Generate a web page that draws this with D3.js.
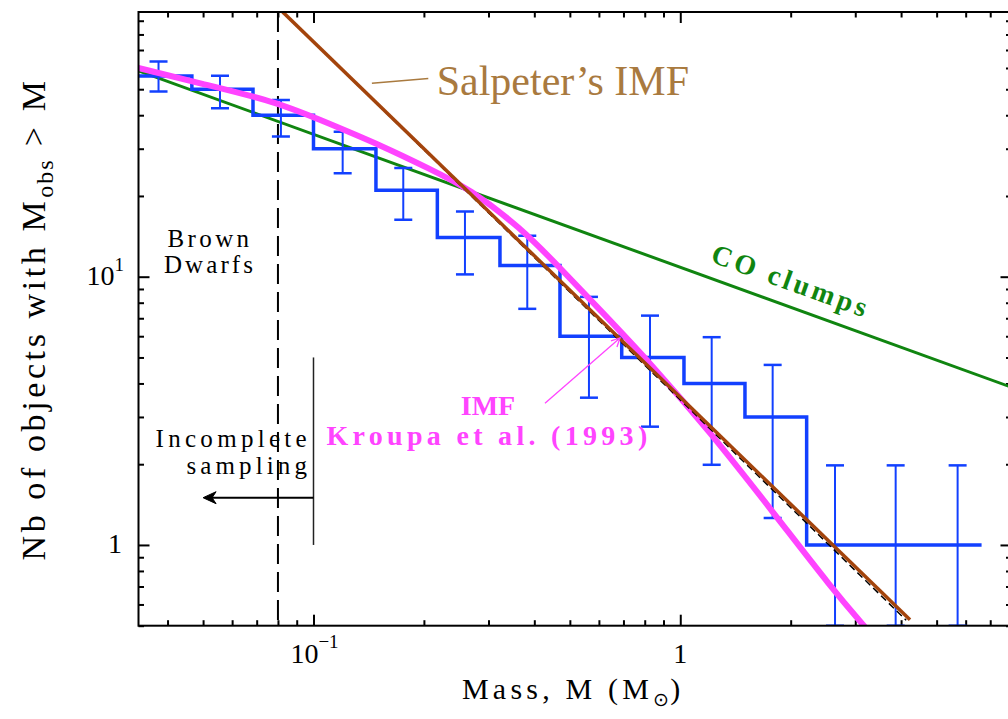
<!DOCTYPE html>
<html>
<head>
<meta charset="utf-8">
<script src="https://cdn.jsdelivr.net/npm/d3@7"></script>
<style>
  body { margin: 0; background: #fff; }
</style>
</head>
<body>
<div class="chart"></div>
<script>
const WIDTH = 1008;
const HEIGHT = 719;
const FONT = "'Liberation Serif', 'Times New Roman', serif";

// axes
const X_DOMAIN = [1 / 30, 8];
const Y_DOMAIN = [0.5, 97];
const X_MAJOR = [0.1, 1];
const Y_MAJOR = [1, 10];

// observed cumulative histogram (step edges in M, counts N(>M))
const STEP_EDGES = [0.0333, 0.0466, 0.0684, 0.1, 0.148, 0.2176, 0.3224, 0.4699, 0.6924, 1.0235, 1.501, 2.211, 6.63];
const STEP_COUNTS = [56, 50, 40, 30, 21, 14, 11, 6, 5, 4, 3, 1];

// error bars
const ERR_MASS = [0.0378, 0.0556, 0.0815, 0.1201, 0.1757, 0.2588, 0.3827, 0.5637, 0.8269, 1.218, 1.786, 2.642, 3.866, 5.704];
const ERR_HIGH = [63.4, 56.1, 45.6, 34.7, 25.4, 17.5, 14.2, 8.41, 7.16, 5.95, 4.69, 1.98, 1.98, 1.98];
const ERR_LOW  = [49.0, 42.5, 33.3, 24.3, 16.3, 10.2, 7.59, 3.54, 2.76, 1.99, 1.26, 0.5, 0.5, 0.5];

// Kroupa et al. (1993) IMF
const KROUPA_MASS = [0.0333, 0.049, 0.0794, 0.1109, 0.1518, 0.208, 0.2671, 0.3656, 0.4699, 0.604, 0.8269, 1.205, 1.789, 2.608, 3.188];
const KROUPA_N    = [60.0, 52.6, 44.9, 37.1, 31.0, 25.2, 21.2, 15.3, 10.8, 7.52, 4.78, 2.64, 1.328, 0.68, 0.495];

// Salpeter's IMF
const SALPETER_MASS = [0.0824, 4.23];
const SALPETER_N    = [97.1, 0.526];
const SALPETER_DASH_MASS = [0.0824, 4.13];
const SALPETER_DASH_N    = [97.1, 0.524];

// CO clumps
const CO_MASS = [1 / 30, 8];
const CO_N    = [58.5, 3.87];

// limits
const BROWN_DWARF_LIMIT = 0.08;
const SAMPLING_LIMIT = 0.1;

const LEFT = 138.5, RIGHT = 1011.5, TOP = 12, BOTTOM = 625.7;

const BLUE = "#1240ff";
const MAGENTA = "#ff44ff";
const BROWN = "#a3440c";
const GREEN = "#108510";
const TAN = "#a97a3f";

const svg = d3.select(".chart").append("svg")
  .attr("width", WIDTH).attr("height", HEIGHT)
  .attr("font-family", FONT);

const x = d3.scaleLog().domain(X_DOMAIN).range([LEFT, RIGHT]);
const y = d3.scaleLog().domain(Y_DOMAIN).range([BOTTOM, TOP]);

svg.append("clipPath").attr("id", "plot")
  .append("rect").attr("x", LEFT).attr("y", TOP)
  .attr("width", RIGHT - LEFT).attr("height", BOTTOM - TOP);

// ticks (inward, all four sides)
const xMinor = x.ticks().filter(d => !X_MAJOR.includes(d));
const yMinor = y.ticks().filter(d => !Y_MAJOR.includes(d));
const tickAxes = [
  [d3.axisBottom(x), `translate(0,${BOTTOM})`, X_MAJOR, xMinor],
  [d3.axisTop(x), `translate(0,${TOP})`, X_MAJOR, xMinor],
  [d3.axisLeft(y), `translate(${LEFT},0)`, Y_MAJOR, yMinor],
  [d3.axisRight(y), `translate(${RIGHT},0)`, Y_MAJOR, yMinor]
];
for (const [axis, tr, major, minor] of tickAxes) {
  for (const [vals, len] of [[major, 11], [minor, 5.5]]) {
    const g = svg.append("g").attr("transform", tr)
      .call(axis.tickValues(vals).tickSize(-len).tickFormat(""));
    g.select(".domain").remove();
    g.selectAll(".tick line").attr("stroke", "#000").attr("stroke-width", 2);
  }
}

const plot = svg.append("g").attr("clip-path", "url(#plot)");

// brown dwarf limit
plot.append("line")
  .attr("x1", x(BROWN_DWARF_LIMIT)).attr("x2", x(BROWN_DWARF_LIMIT))
  .attr("y1", TOP).attr("y2", BOTTOM)
  .attr("stroke", "#000").attr("stroke-width", 2).attr("stroke-dasharray", "20,8");

// CO clumps
const line = d3.line().x(d => x(d[0])).y(d => y(d[1]));
plot.append("path")
  .attr("d", line(CO_MASS.map((m, i) => [m, CO_N[i]])))
  .attr("fill", "none").attr("stroke", GREEN).attr("stroke-width", 3);

// histogram
const stepPts = STEP_COUNTS.map((n, i) => [STEP_EDGES[i], n]);
stepPts.push([STEP_EDGES[STEP_EDGES.length - 1], STEP_COUNTS[STEP_COUNTS.length - 1]]);
plot.append("path")
  .attr("d", d3.line().x(d => x(d[0])).y(d => y(d[1])).curve(d3.curveStepAfter)(stepPts))
  .attr("fill", "none").attr("stroke", BLUE).attr("stroke-width", 3.5);

const errs = plot.append("g").attr("stroke", BLUE).attr("stroke-width", 2);
ERR_MASS.forEach((m, i) => {
  const cx = x(m);
  errs.append("line").attr("x1", cx).attr("x2", cx).attr("y1", y(ERR_HIGH[i])).attr("y2", y(ERR_LOW[i]));
  for (const v of [ERR_HIGH[i], ERR_LOW[i]]) {
    errs.append("line").attr("x1", cx - 9).attr("x2", cx + 9).attr("y1", y(v)).attr("y2", y(v)).attr("stroke-width", 2.5);
  }
});

// Kroupa IMF
plot.append("path")
  .attr("d", d3.line().x(d => x(d[0])).y(d => y(d[1])).curve(d3.curveBasis)(KROUPA_MASS.map((m, i) => [m, KROUPA_N[i]])))
  .attr("fill", "none").attr("stroke", MAGENTA).attr("stroke-width", 6);

// Salpeter
plot.append("path")
  .attr("d", line(SALPETER_DASH_MASS.map((m, i) => [m, SALPETER_DASH_N[i]])))
  .attr("fill", "none").attr("stroke", "#000").attr("stroke-width", 1.5).attr("stroke-dasharray", "7,4");
plot.append("path")
  .attr("d", line(SALPETER_MASS.map((m, i) => [m, SALPETER_N[i]])))
  .attr("fill", "none").attr("stroke", BROWN).attr("stroke-width", 3.5);

// frame
svg.append("rect").attr("x", LEFT).attr("y", TOP)
  .attr("width", RIGHT - LEFT).attr("height", BOTTOM - TOP)
  .attr("fill", "none").attr("stroke", "#000").attr("stroke-width", 2);

// incomplete sampling marker
const sx = x(SAMPLING_LIMIT);
svg.append("line").attr("x1", sx).attr("x2", sx).attr("y1", y(5)).attr("y2", y(1))
  .attr("stroke", "#222").attr("stroke-width", 1.5);
const ay = y(1.5), ax = x(0.05);
svg.append("line").attr("x1", sx).attr("x2", ax + 2).attr("y1", ay).attr("y2", ay)
  .attr("stroke", "#000").attr("stroke-width", 2);
svg.append("path")
  .attr("d", `M${ax},${ay} L${ax + 13},${ay - 6} L${ax + 9},${ay} L${ax + 13},${ay + 6} Z`)
  .attr("fill", "#000").attr("stroke", "#000").attr("stroke-width", 1);

// tick labels
const tickLab = svg.append("g").attr("font-size", 28).attr("fill", "#000");
const t1 = tickLab.append("text").attr("x", x(0.1) + 1).attr("y", 663).attr("text-anchor", "middle");
t1.append("tspan").text("10");
t1.append("tspan").attr("dy", -15).attr("font-size", 19).text("\u22121");
tickLab.append("text").attr("x", x(1)).attr("y", 663).attr("text-anchor", "middle").text("1");
const t3 = tickLab.append("text").attr("x", 124).attr("y", y(10) + 8).attr("text-anchor", "end");
t3.append("tspan").text("10");
t3.append("tspan").attr("dy", -14).attr("font-size", 19).text("1");
tickLab.append("text").attr("x", 122).attr("y", y(1) + 8).attr("text-anchor", "end").text("1");

// axis titles
const xt = svg.append("text").attr("x", 462).attr("y", 699)
  .attr("font-size", 30).attr("letter-spacing", 4.2);
xt.append("tspan").text("Mass, M (M");
xt.append("tspan").attr("dy", 7).attr("font-size", 19).attr("letter-spacing", 1).text("\u2299");
xt.append("tspan").attr("dy", -7).text(")");

const yt = svg.append("text").attr("transform", "translate(45,319) rotate(-90)")
  .attr("text-anchor", "middle").attr("font-size", 34).attr("letter-spacing", 3.6);
yt.append("tspan").text("Nb of objects with M");
yt.append("tspan").attr("dy", 8).attr("font-size", 24).attr("letter-spacing", 2).text("obs");
yt.append("tspan").attr("dy", -8).text(" > M");

// annotations
const note = svg.append("g").attr("font-size", 25).attr("fill", "#000");
note.append("text").attr("x", 210).attr("y", 246.7).attr("text-anchor", "middle").attr("letter-spacing", 3.4).text("Brown");
note.append("text").attr("x", 210).attr("y", 272.7).attr("text-anchor", "middle").attr("letter-spacing", 3.1).text("Dwarfs");
note.append("text").attr("x", 311).attr("y", 446.7).attr("text-anchor", "end").attr("letter-spacing", 4.3).text("Incomplete");
note.append("text").attr("x", 311).attr("y", 474).attr("text-anchor", "end").attr("letter-spacing", 4.1).text("sampling");

svg.append("text").attr("x", 788).attr("y", 290)
  .attr("transform", `rotate(${Math.atan(0.3623) * 180 / Math.PI},788,290)`)
  .attr("text-anchor", "middle").attr("font-size", 28).attr("font-weight", "bold")
  .attr("letter-spacing", 3.6).attr("fill", GREEN).text("CO clumps");

const imf = svg.append("g").attr("fill", MAGENTA).attr("font-weight", "bold");
imf.append("text").attr("x", 488).attr("y", 415).attr("text-anchor", "middle").attr("font-size", 28).text("IMF");
imf.append("text").attr("x", 489).attr("y", 445).attr("text-anchor", "middle").attr("font-size", 28)
  .attr("letter-spacing", 4.3).text("Kroupa et al. (1993)");
// pointer to the curve
const p0 = [x(0.4277), y(3.376)], p1 = [x(0.6848), y(5.91)];
svg.append("line").attr("x1", p0[0]).attr("y1", p0[1]).attr("x2", p1[0]).attr("y2", p1[1])
  .attr("stroke", MAGENTA).attr("stroke-width", 1.3);
svg.append("path")
  .attr("d", `M${p1[0] - 9},${p1[1] + 3} L${p1[0]},${p1[1]} L${p1[0] - 3},${p1[1] + 9}`)
  .attr("fill", "none").attr("stroke", MAGENTA).attr("stroke-width", 1.3);

// Salpeter label
svg.append("line").attr("x1", x(0.1443)).attr("y1", y(52.6)).attr("x2", x(0.2056)).attr("y2", y(54.8))
  .attr("stroke", TAN).attr("stroke-width", 1.6);
svg.append("text").attr("x", 436.7).attr("y", 95)
  .attr("font-size", 42).attr("fill", TAN).text("Salpeter\u2019s IMF");
</script>
</body>
</html>
